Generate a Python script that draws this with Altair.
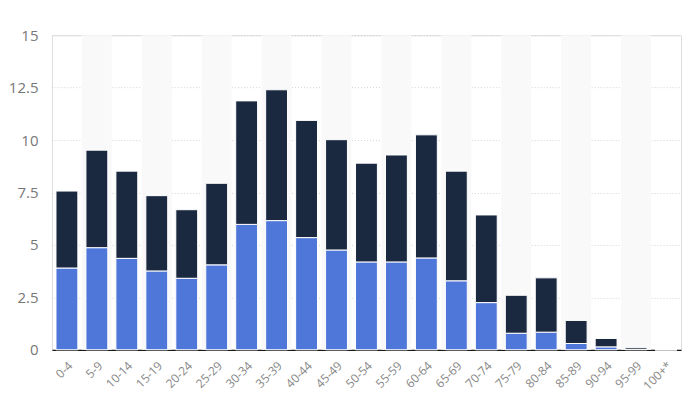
import altair as alt
import pandas as pd

ages = ["0-4", "5-9", "10-14", "15-19", "20-24", "25-29", "30-34", "35-39",
        "40-44", "45-49", "50-54", "55-59", "60-64", "65-69", "70-74", "75-79",
        "80-84", "85-89", "90-94", "95-99", "100+*"]
bottom_vals = [3.9, 4.87, 4.36, 3.76, 3.41, 4.05, 5.98, 6.16, 5.35, 4.76, 4.19,
               4.19, 4.38, 3.29, 2.25, 0.79, 0.84, 0.3, 0.14, 0.02, 0.0]
top_vals = [3.67, 4.65, 4.16, 3.59, 3.27, 3.89, 5.89, 6.24, 5.59, 5.26, 4.71,
            5.1, 5.87, 5.23, 4.18, 1.81, 2.59, 1.1, 0.4, 0.08, 0.0]
series = ["Series A", "Series B"]
colors = ["#4e77d9", "#1b2940"]

rows = []
for i, a in enumerate(ages):
    rows.append({"age": a, "series": series[0], "value": bottom_vals[i], "ord": 0})
    rows.append({"age": a, "series": series[1], "value": top_vals[i], "ord": 1})
df = pd.DataFrame(rows)

stripes = pd.DataFrame({"age": [a for i, a in enumerate(ages) if i % 2 == 1],
                        "y0": 0, "y1": 15})

xenc = alt.X("age:N", sort=ages, title=None,
             scale=alt.Scale(paddingInner=0.27, paddingOuter=0.135),
             axis=alt.Axis(labelAngle=-45, labelAlign="right", labelBaseline="top",
                           labelColor="#888", labelFontSize=12, labelFont="Open Sans",
                           ticks=False, domainColor="#1b1b1b", domainWidth=1.2,
                           labelPadding=10, grid=False))

bg = alt.Chart(stripes).mark_bar(color="#f9f9fa", width={"band": 1.37}).encode(
    x=alt.X("age:N", sort=ages, title=None),
    y=alt.Y("y0:Q"),
    y2="y1:Q",
)

bars = alt.Chart(df).mark_bar(stroke="white", strokeWidth=1).encode(
    x=xenc,
    y=alt.Y("value:Q", stack="zero", title=None,
            scale=alt.Scale(domain=[0, 15], nice=False),
            axis=alt.Axis(values=[0, 2.5, 5, 7.5, 10, 12.5, 15], format=".1~f",
                          labelColor="#777", labelFontSize=15, labelFont="Open Sans",
                          ticks=False, domain=False, labelPadding=14,
                          gridColor="#d2d2d2", gridDash=[1, 2], gridWidth=1)),
    color=alt.Color("series:N", scale=alt.Scale(domain=series, range=colors), legend=None),
    order=alt.Order("ord:Q"),
)

chart = alt.layer(bg, bars).properties(
    width=630, height=315,
    padding={"top": 20, "left": 0, "right": 5, "bottom": 5},
).configure_view(stroke=None).configure(background="white")

chart.save("out.html", embed_options={"renderer": "svg", "actions": False})
